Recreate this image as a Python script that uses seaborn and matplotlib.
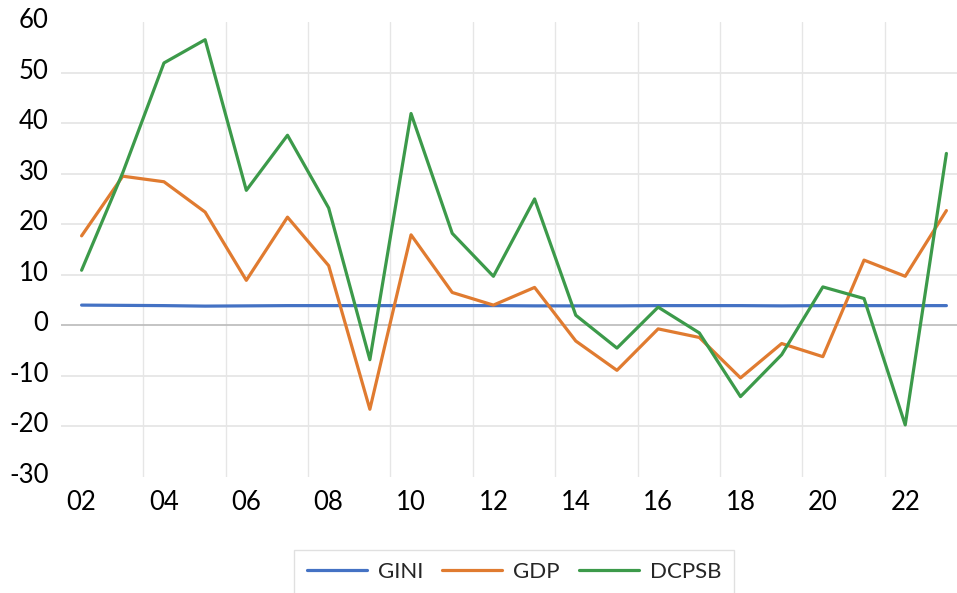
import pandas as pd
import matplotlib
matplotlib.use("Agg")
import matplotlib.pyplot as plt
import matplotlib.transforms as mtransforms
import seaborn as sns

# data
years = list(range(2002, 2024))
year_labels = ["02", "04", "06", "08", "10", "12", "14", "16", "18", "20", "22"]

gini = [4.0, 3.95, 3.9, 3.8, 3.85, 3.9, 3.9, 3.9, 3.9, 3.9, 3.9,
        3.85, 3.85, 3.85, 3.9, 3.9, 3.9, 3.85, 3.9, 3.9, 3.9, 3.9]
gdp = [17.7, 29.5, 28.4, 22.4, 8.9, 21.4, 11.8, -16.6, 17.9, 6.5, 4.0,
       7.5, -3.1, -8.9, -0.7, -2.4, -10.4, -3.6, -6.2, 12.9, 9.7, 22.7]
dcpsb = [10.9, 30.2, 51.9, 56.5, 26.7, 37.6, 23.2, -6.8, 41.9, 18.2, 9.7,
         25.0, 2.0, -4.5, 3.6, -1.5, -14.1, -5.8, 7.6, 5.3, -19.7, 34.0]

series_names = ["GINI", "GDP", "DCPSB"]
colors = ["#4472C4", "#E07B30", "#3C9A4A"]

rows = []
for name, vals in zip(series_names, [gini, gdp, dcpsb]):
    for i, v in enumerate(vals):
        rows.append({"pos": i, "value": v, "series": name})
df = pd.DataFrame(rows)

sns.set_style("white")
plt.rcParams["font.family"] = ["Lato", "DejaVu Sans"]
plt.rcParams["axes.unicode_minus"] = False

fig = plt.figure(figsize=(9.57, 5.93), dpi=100)
ax = fig.add_axes([61 / 957, 1 - 477 / 593, (957 - 61) / 957, 455 / 593])

# gridlines
for x in range(1, len(years), 2):
    ax.axvline(x + 0.5, color="#E6E6E6", lw=1.0, zorder=0)
for y in range(-20, 60, 10):
    ax.axhline(y, color="#BFBFBF" if y == 0 else "#E6E6E6", lw=1.3, zorder=0)

sns.lineplot(data=df, x="pos", y="value", hue="series", hue_order=series_names,
             palette=colors, linewidth=2.3, ax=ax, legend=True)

ax.set_xlim(-0.5, 21.5 - 10 / 41.2)
ax.set_ylim(-30, 60)
ax.set_xticks(range(0, len(years), 2))
ax.set_xticklabels(year_labels)
ax.set_yticks(range(-30, 70, 10))
ax.set_xlabel("")
ax.set_ylabel("")
ax.tick_params(axis="both", length=0, labelsize=18.5, colors="black")
ax.tick_params(axis="y", pad=9)
ax.tick_params(axis="x", pad=9)
for lab in ax.get_yticklabels():
    lab.set_transform(lab.get_transform() + mtransforms.ScaledTranslation(0, 4 / 100, fig.dpi_scale_trans))
for s in ax.spines.values():
    s.set_visible(False)

handles, labels = ax.get_legend_handles_labels()
ax.get_legend().remove()
leg = fig.legend(handles, labels, loc="upper center", bbox_to_anchor=(514 / 957, 1 - 550 / 593),
                 ncol=3, frameon=True, fancybox=False, fontsize=16, handlelength=2.7,
                 handletextpad=0.5, columnspacing=0.86, borderpad=0.55, borderaxespad=0)
leg.get_frame().set_edgecolor("#D9D9D9")
leg.get_frame().set_linewidth(1.0)

fig.savefig("out.png", dpi=100)
